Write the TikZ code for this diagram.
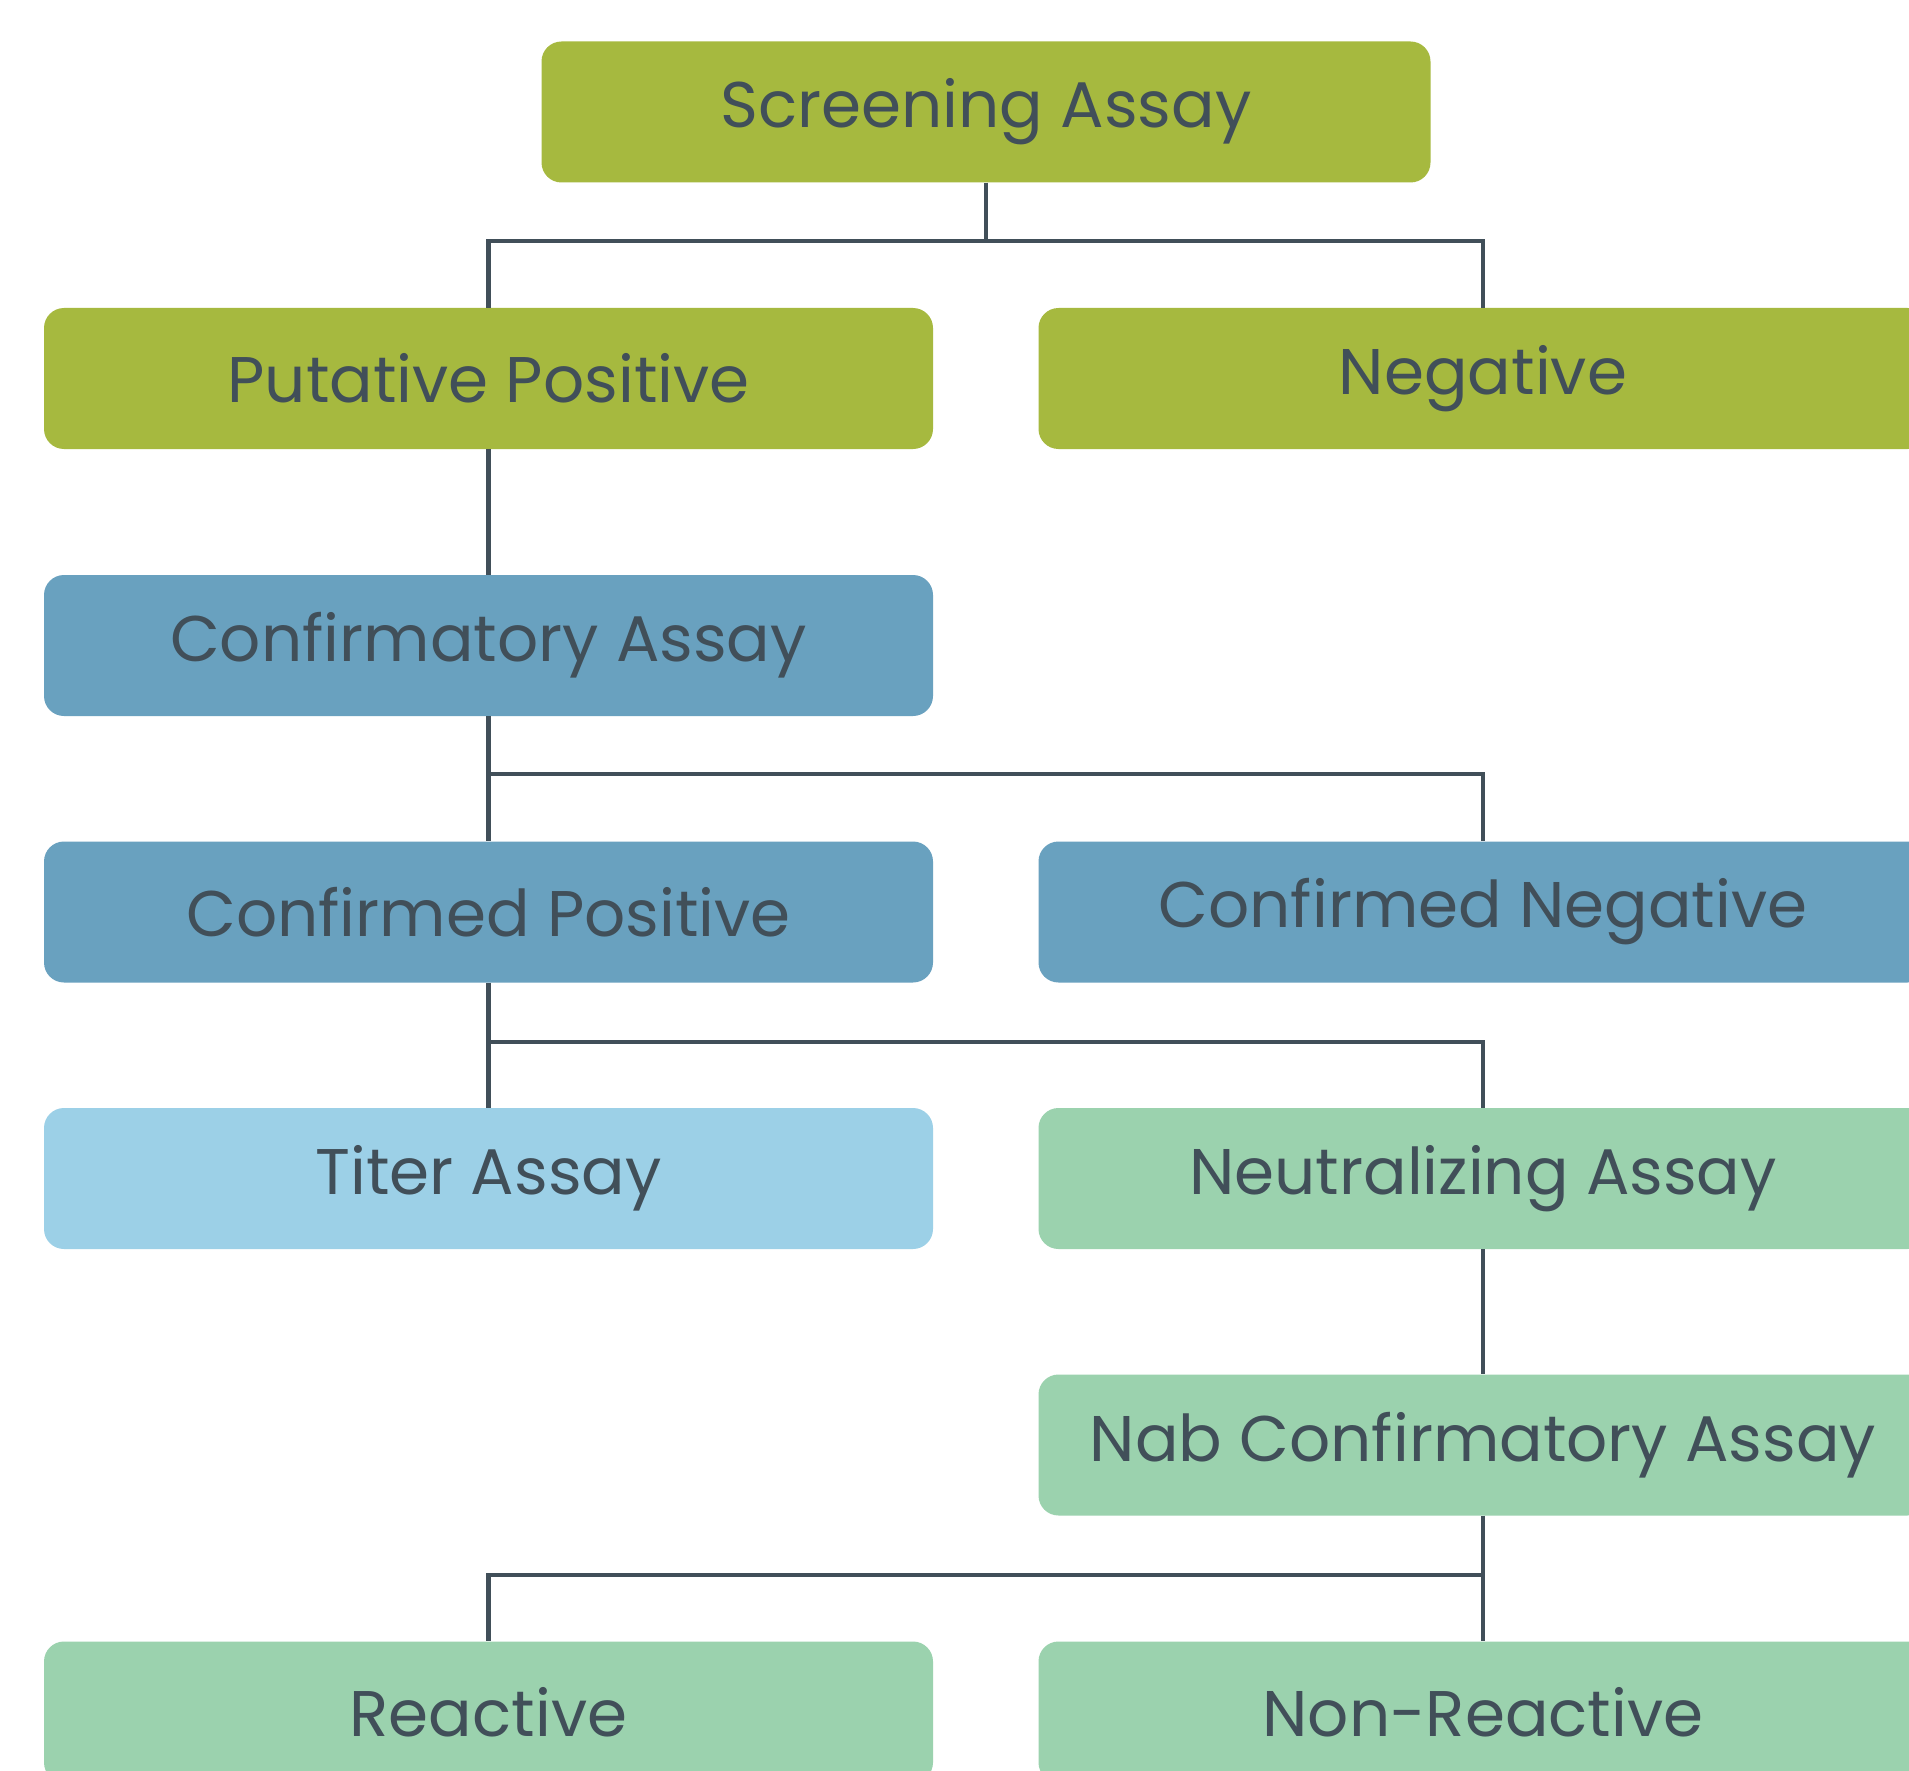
\documentclass[tikz,border=0pt]{standalone}
\usepackage{fontspec}
\setmainfont{Poppins}
\definecolor{ink}{HTML}{414F59}
\definecolor{olive}{HTML}{A6B93F}
\definecolor{steel}{HTML}{69A1BF}
\definecolor{sky}{HTML}{9CD0E7}
\definecolor{mint}{HTML}{9BD2AE}
\tikzset{
  box/.style={rounded corners=20pt, minimum width=889pt, minimum height=141pt,
    inner sep=0pt, text=ink, font=\fontsize{64.5}{72}\selectfont, draw=none},
  link/.style={draw=ink, line width=4.5pt}
}
\begin{document}
\begin{tikzpicture}[x=1pt,y=1pt]
\useasboundingbox (0,0) rectangle (1909,-1771);
\fill[white] (0,0) rectangle (1909,-1771);
\begin{scope}
\clip (0,0) rectangle (1909,-1771);
\node[box, fill=olive] (screen) at (986,-112) {Screening Assay};
\node[box, fill=olive] (putpos) at (488.5,-378.5) {Putative Positive};
\node[box, fill=olive] (neg) at (1483,-378.5) {Negative};
\node[box, fill=steel] (confa) at (488.5,-645.5) {Confirmatory Assay};
\node[box, fill=steel] (confpos) at (488.5,-912) {Confirmed Positive};
\node[box, fill=steel] (confneg) at (1483,-912) {Confirmed Negative};
\node[box, fill=sky] (titer) at (488.5,-1178.5) {Titer Assay};
\node[box, fill=mint] (neut) at (1483,-1178.5) {Neutralizing Assay};
\node[box, fill=mint] (nab) at (1483,-1445) {Nab Confirmatory Assay};
\node[box, fill=mint] (react) at (488.5,-1712) {Reactive};
\node[box, fill=mint] (nonreact) at (1483,-1712) {Non-Reactive};

\coordinate (j1) at (986,-241);
\coordinate (j2) at (488.5,-774);
\coordinate (j3) at (488.5,-1042);
\coordinate (j4) at (1483,-1575);

\draw[link] (screen.south) -- (j1);
\draw[link] (putpos.north) |- (j1) -| (neg.north);
\draw[link] (putpos.south) -- (confa.north);
\draw[link] (confa.south) -- (confpos.north);
\draw[link] (j2) -| (confneg.north);
\draw[link] (confpos.south) -- (titer.north);
\draw[link] (j3) -| (neut.north);
\draw[link] (neut.south) -- (nab.north);
\draw[link] (nab.south) -- (nonreact.north);
\draw[link] (j4) -| (react.north);
\end{scope}
\end{tikzpicture}
\end{document}
